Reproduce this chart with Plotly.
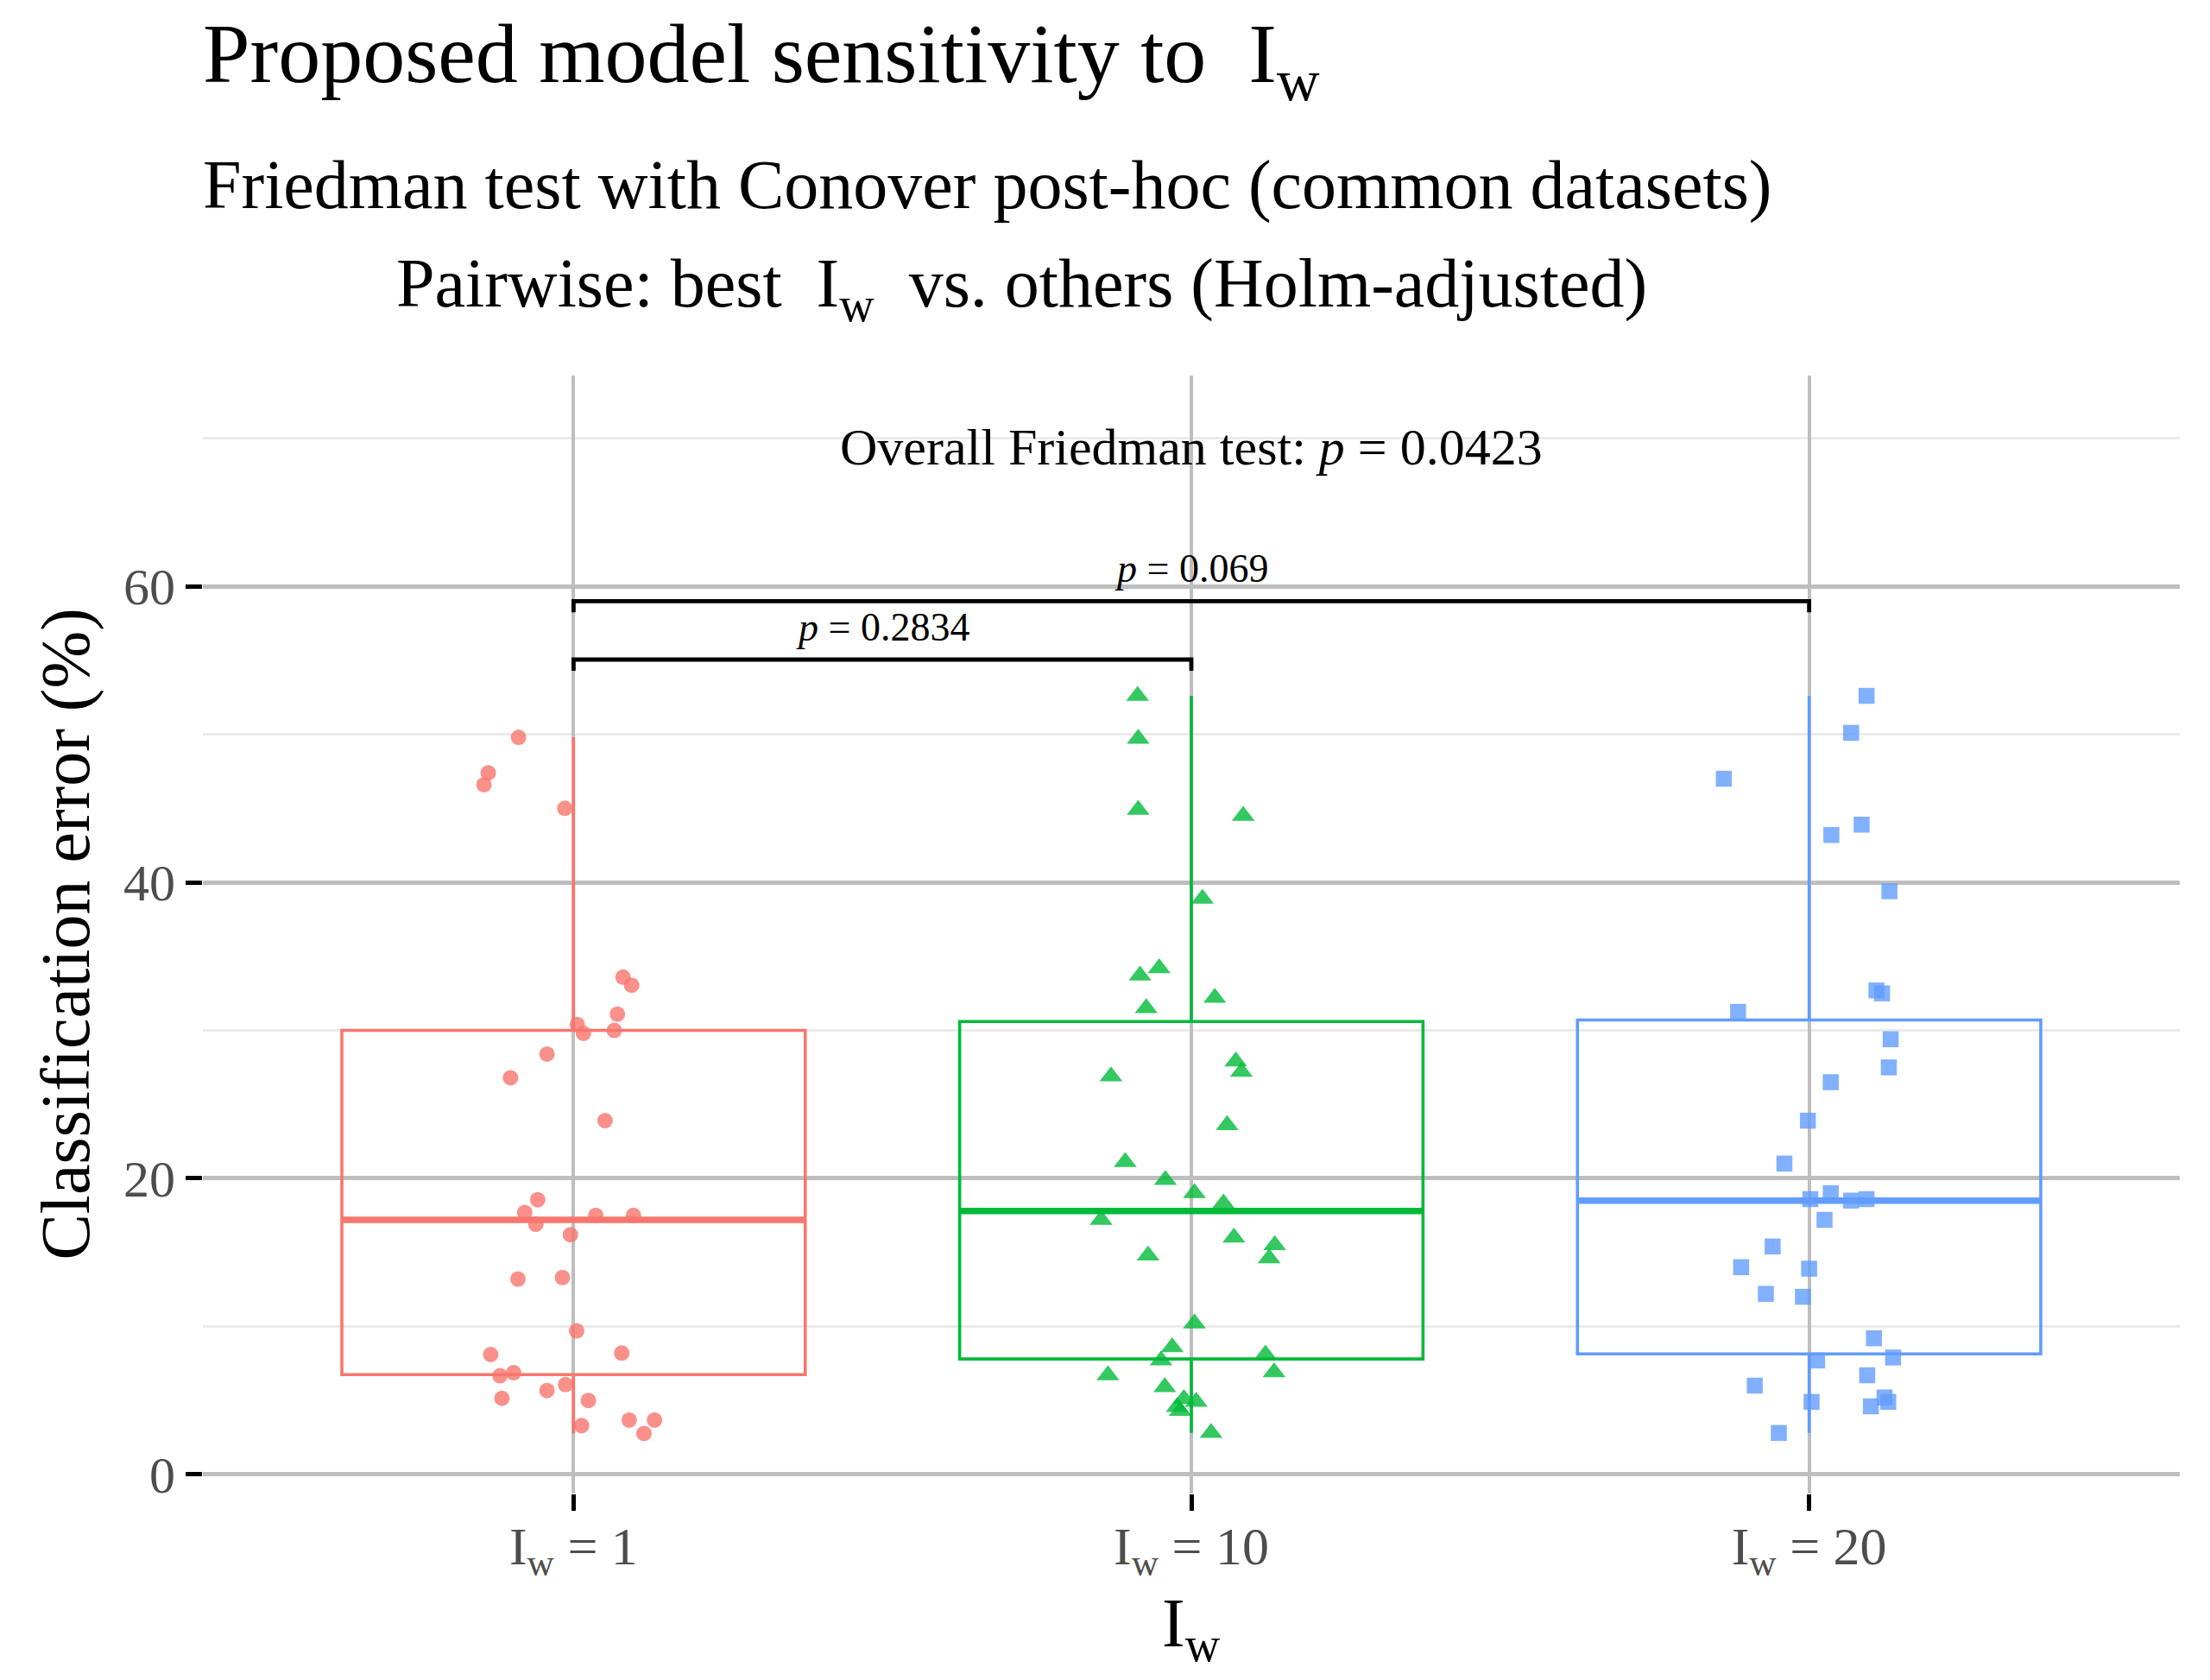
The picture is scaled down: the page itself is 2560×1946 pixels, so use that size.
import plotly.graph_objects as go

# ---------------- data ----------------
groups = ["I<sub>w</sub> = 1", "I<sub>w</sub> = 10", "I<sub>w</sub> = 20"]
colors = ["#F8766D", "#00BA38", "#619CFF"]
symbols = ["circle", "triangle-up", "square"]

err_1 = [49.8, 47.4, 46.6, 45.0, 33.6, 33.05, 31.1, 30.4, 29.8, 30.0, 28.4, 26.8, 23.9,
         18.56, 17.7, 16.9, 17.5, 17.5, 16.2, 13.2, 13.3, 9.7, 8.1, 8.2, 6.67, 6.87,
         5.14, 5.67, 6.07, 5.0, 3.3, 3.67, 3.67, 2.77]
jitter_1 = [-0.089, -0.138, -0.145, -0.014, 0.080, 0.094, 0.071, 0.006, 0.016, 0.066,
            -0.043, -0.102, 0.051, -0.058, -0.079, -0.061, 0.036, 0.097, -0.005, -0.090,
            -0.018, 0.005, -0.134, 0.078, -0.119, -0.097, -0.116, -0.043, -0.013, 0.024,
            0.013, 0.090, 0.131, 0.114]

err_10 = [52.6, 49.7, 44.9, 44.5, 38.9, 34.2, 33.7, 32.2, 31.5, 27.9, 27.2, 26.9, 23.6,
          21.1, 19.9, 19.0, 18.3, 17.2, 16.0, 15.5, 14.8, 14.6, 10.2, 8.6, 8.1, 7.7,
          6.9, 6.7, 5.9, 5.1, 4.9, 4.55, 4.3, 2.8]
jitter_10 = [-0.087, -0.086, -0.086, 0.084, 0.018, -0.052, -0.083, 0.038, -0.073, 0.072,
             0.081, -0.130, 0.058, -0.107, -0.042, 0.005, 0.052, -0.146, 0.069, 0.135,
             -0.070, 0.126, 0.005, -0.031, 0.120, -0.049, 0.134, -0.135, -0.043, -0.012,
             0.008, -0.023, -0.018, 0.032]

err_20 = [52.6, 50.1, 47.0, 43.9, 43.2, 39.4, 32.7, 32.5, 31.25, 29.4, 27.5, 26.5, 23.9,
          21.0, 18.6, 19.0, 18.5, 18.6, 17.2, 15.4, 14.0, 13.9, 12.2, 12.0, 9.2, 7.7,
          7.9, 6.7, 6.0, 5.2, 4.9, 4.9, 4.6, 2.8]
jitter_20 = [0.093, 0.068, -0.138, 0.085, 0.036, 0.130, 0.109, 0.118, -0.115, 0.132,
             0.129, 0.035, -0.002, -0.040, 0.002, 0.035, 0.068, 0.093, 0.025, -0.059,
             -0.110, 0.000, -0.070, -0.010, 0.105, 0.013, 0.136, 0.094, -0.088, 0.122,
             0.128, 0.004, 0.100, -0.049]

box_q1 = [6.74, 7.8, 8.14]
box_median = [17.2, 17.8, 18.5]
box_q3 = [30.0, 30.6, 30.7]
box_lower = [2.77, 2.8, 2.8]
box_upper = [49.8, 52.6, 52.6]

# pairwise comparisons: (from group, to group, bracket level, label)
pair_from = [0, 0]
pair_to = [1, 2]
pair_level = [55.05, 59.0]
pair_label = ["<i>p</i> = 0.2834", "<i>p</i> = 0.069"]
overall_label = "Overall Friedman test: <i>p</i> = 0.0423"

y_ticks = [0, 20, 40, 60]
y_minor = [10, 30, 50, 70]

# ---------------- figure ----------------
FONT = "Liberation Serif"
W, H = 2560, 1946
ML, MR, MT, MB = 235, 35, 435, 216
PW, PH = W - ML - MR, H - MT - MB
BOXW = 0.75
TIP = 0.75


def px(xp):
    return (xp - ML) / PW


def py(yp):
    return (H - MB - yp) / PH


fig = go.Figure()

series = [(err_1, jitter_1), (err_10, jitter_10), (err_20, jitter_20)]
for i, (vals, jit) in enumerate(series):
    fig.add_trace(go.Scatter(
        x=[i + j for j in jit], y=vals, mode="markers",
        marker=dict(symbol=symbols[i], color=colors[i], opacity=0.8,
                    size=[18, 23, 18.5][i], line=dict(width=0)),
        showlegend=False, hoverinfo="skip"))

# brackets
for k in range(len(pair_from)):
    a, b, lv = pair_from[k], pair_to[k], pair_level[k]
    fig.add_trace(go.Scatter(
        x=[a, a, b, b], y=[lv - TIP, lv, lv, lv - TIP], mode="lines",
        line=dict(color="black", width=4.8), showlegend=False, hoverinfo="skip"))

# thick median lines
for i in range(3):
    fig.add_trace(go.Scatter(
        x=[i - BOXW / 2, i + BOXW / 2], y=[box_median[i], box_median[i]], mode="lines",
        line=dict(color=colors[i], width=7.5), showlegend=False, hoverinfo="skip"))

for i in range(3):
    fig.add_trace(go.Box(
        x=[i], q1=[box_q1[i]], median=[box_median[i]], q3=[box_q3[i]],
        lowerfence=[box_lower[i]], upperfence=[box_upper[i]],
        width=BOXW, whiskerwidth=0, boxpoints=False,
        fillcolor="rgba(0,0,0,0)", line=dict(color=colors[i], width=3.6),
        showlegend=False, hoverinfo="skip"))

ann = []
# titles
ann.append(dict(text="Proposed model sensitivity to  I<sub>w</sub>", x=px(233), y=py(69),
                xref="paper", yref="paper", xanchor="left", yanchor="middle",
                showarrow=False, font=dict(family=FONT, size=98, color="black")))
ann.append(dict(text="Friedman test with Conover post-hoc (common datasets)", x=px(233), y=py(215),
                xref="paper", yref="paper", xanchor="left", yanchor="middle",
                showarrow=False, font=dict(family=FONT, size=80, color="black")))
ann.append(dict(text="Pairwise: best  I<sub>w</sub>  vs. others (Holm-adjusted)", x=px(1183), y=py(334),
                xref="paper", yref="paper", xanchor="center", yanchor="middle",
                showarrow=False, font=dict(family=FONT, size=80, color="black")))
# axis titles
ann.append(dict(text="Classification error (%)", x=px(76), y=0.5, textangle=-90,
                xref="paper", yref="paper", xanchor="center", yanchor="middle",
                showarrow=False, font=dict(family=FONT, size=80, color="black")))
ann.append(dict(text="I<sub>w</sub>", x=1, y=py(1886),
                xref="x", yref="paper", xanchor="center", yanchor="middle",
                showarrow=False, font=dict(family=FONT, size=80, color="black")))
# in-panel texts
ann.append(dict(text=overall_label, x=1, y=69.4, xref="x", yref="y",
                xanchor="center", yanchor="middle", showarrow=False,
                font=dict(family=FONT, size=60, color="black")))
for k in range(len(pair_from)):
    ann.append(dict(text=pair_label[k], x=(pair_from[k] + pair_to[k]) / 2,
                    y=pair_level[k] + 2.2, xref="x", yref="y",
                    xanchor="center", yanchor="middle", showarrow=False,
                    font=dict(family=FONT, size=46, color="black")))

fig.update_layout(
    width=W, height=H, autosize=False,
    margin=dict(l=ML, r=MR, t=MT, b=MB, pad=0),
    paper_bgcolor="white", plot_bgcolor="white",
    font=dict(family=FONT, color="#4D4D4D"),
    showlegend=False,
    annotations=ann,
    xaxis=dict(range=[-0.6, 2.6], tickvals=[0, 1, 2], ticktext=groups,
               showgrid=True, gridcolor="#BEBEBE", gridwidth=4,
               zeroline=False, showline=False,
               ticks="outside", ticklen=19, tickwidth=5, tickcolor="black",
               ticklabelstandoff=-12,
               tickfont=dict(family=FONT, size=62, color="#4D4D4D")),
    yaxis=dict(range=[-1.29, 74.24], tickvals=y_ticks,
               showgrid=True, gridcolor="#BEBEBE", gridwidth=4.5,
               zeroline=False, showline=False,
               ticks="outside", ticklen=19, tickwidth=5, tickcolor="black",
               tickfont=dict(family=FONT, size=60, color="#4D4D4D"),
               minor=dict(tickvals=y_minor, showgrid=True, gridcolor="#EBEBEB",
                          gridwidth=2.8, ticks="")),
)

fig.write_html("out.html", config={"displayModeBar": False})
with open("out.html", "r", encoding="utf-8") as f:
    html = f.read()
html = html.replace("<body>", '<body style="margin:0;padding:0;">', 1)
with open("out.html", "w", encoding="utf-8") as f:
    f.write(html)
